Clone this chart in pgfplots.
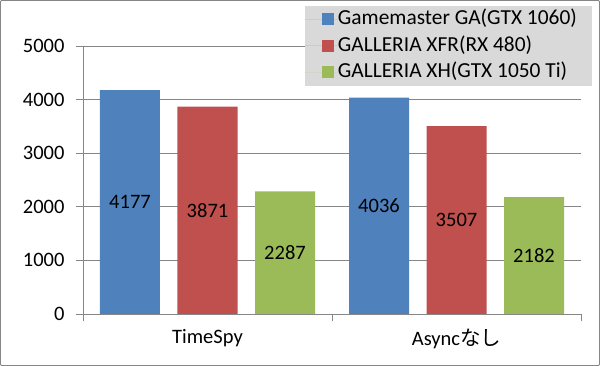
\documentclass[border=0pt]{standalone}
\usepackage{pgfplots}
\pgfplotsset{compat=1.18}
\usepackage{fontspec}
\setmainfont{Carlito}
\newfontfamily\cjk{Noto Sans CJK JP}
\definecolor{cblue}{HTML}{4F81BD}
\definecolor{cred}{HTML}{C0504D}
\definecolor{cgreen}{HTML}{9BBB59}
\definecolor{cgrid}{HTML}{868686}
\definecolor{clegbg}{HTML}{D9D9D9}
\begin{document}
\begin{tikzpicture}
\useasboundingbox (-83bp,-52bp) rectangle (517bp,314bp);
\draw[color=cgrid, line width=0.8bp, rounded corners=1bp] (-82.5bp,-51.5bp) rectangle (516.5bp,313.5bp);
\begin{axis}[
  at={(0,0)}, anchor=south west,
  scale only axis, width=498bp, height=268bp,
  xmin=-0.5, xmax=1.5, ymin=0, ymax=5000,
  ybar=17.5bp, bar width=60bp,
  axis x line*=bottom, axis y line*=left,
  x axis line style={-, draw=cgrid, line width=0.8bp},
  y axis line style={-, draw=cgrid, line width=0.8bp},
  tick align=outside,
  major tick length=7bp,
  tick style={draw=cgrid, line width=0.8bp},
  ytick={0,1000,2000,3000,4000,5000},
  ymajorgrids, grid style={draw=cgrid, line width=0.8bp},
  xtick={-0.5,0.5,1.5}, xticklabels={},
  extra x ticks={0,1},
  extra x tick labels={TimeSpy, Async{\cjk なし}},
  extra x tick style={major tick length=0pt, xticklabel style={yshift=-12bp}},
  /pgf/number format/assume math mode=true,
  /pgf/number format/1000 sep={},
  ticklabel style={font=\fontsize{20.5bp}{24bp}\selectfont, text=black},
  yticklabel style={xshift=-8bp},
  nodes near coords,
  visualization depends on=rawy \as \rawy,
  every node near coord/.append style={anchor=center, font=\fontsize{20.5bp}{24bp}\selectfont, text=black,
     shift={(axis direction cs:0,-\rawy/2)}},
  legend style={at={(rel axis cs:1,1)}, anchor=north east, xshift=11bp, yshift=40bp,
     fill=clegbg, draw=none, font=\fontsize{21.4bp}{26bp}\selectfont,
     inner xsep=0bp, inner ysep=0bp, row sep=0bp, column sep=0bp,
     nodes={text height=15bp, text depth=4.5bp, inner ysep=3.5bp, inner xsep=0bp}},
  legend cell align=left,
  legend image code/.code={\path (0bp,0bp) -- (33bp,0bp); \fill[#1] (17bp,-6bp) rectangle (29bp,6bp);},
]
\addplot[draw=none, fill=cblue] coordinates {(0,4177) (1,4036)};
\addplot[draw=none, fill=cred] coordinates {(0,3871) (1,3507)};
\addplot[draw=none, fill=cgreen] coordinates {(0,2287) (1,2182)};
\legend{Gamemaster GA(GTX 1060)\rule{15bp}{0pt}, GALLERIA XFR(RX 480), GALLERIA XH(GTX 1050 Ti)}
\end{axis}
\end{tikzpicture}
\end{document}
